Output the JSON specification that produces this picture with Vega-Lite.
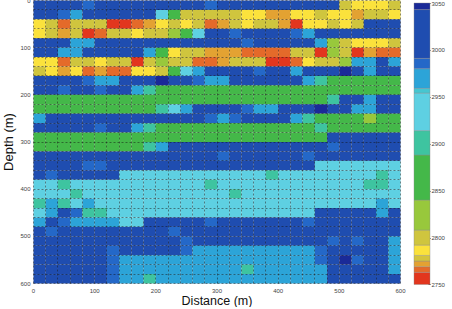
{
"$schema": "https://vega.github.io/schema/vega-lite/v6.json",
"padding": {"left": 2, "top": -3, "right": 2, "bottom": 0},
"bounds": "flush",
"spacing": 14,
"config": {"view": {"stroke": null}, "font": "Liberation Sans"},
"datasets": {
"cells": [
{"x":0,"y":0,"v":3015},{"x":20,"y":0,"v":3015},{"x":40,"y":0,"v":3015},{"x":60,"y":0,"v":3015},{"x":80,"y":0,"v":2985},{"x":100,"y":0,"v":3015},{"x":120,"y":0,"v":3015},{"x":140,"y":0,"v":3015},{"x":160,"y":0,"v":3015},{"x":180,"y":0,"v":3015},{"x":200,"y":0,"v":3015},{"x":220,"y":0,"v":3015},{"x":240,"y":0,"v":3015},{"x":260,"y":0,"v":3015},{"x":280,"y":0,"v":2985},{"x":300,"y":0,"v":3015},{"x":320,"y":0,"v":3015},{"x":340,"y":0,"v":3015},{"x":360,"y":0,"v":3015},{"x":380,"y":0,"v":3015},{"x":400,"y":0,"v":3015},{"x":420,"y":0,"v":3015},{"x":440,"y":0,"v":3015},{"x":460,"y":0,"v":3015},{"x":480,"y":0,"v":3015},{"x":500,"y":0,"v":2800},{"x":520,"y":0,"v":2786},{"x":540,"y":0,"v":2786},{"x":560,"y":0,"v":2786},{"x":580,"y":0,"v":2800},
{"x":0,"y":20,"v":3015},{"x":20,"y":20,"v":3015},{"x":40,"y":20,"v":2985},{"x":60,"y":20,"v":2968},{"x":80,"y":20,"v":3015},{"x":100,"y":20,"v":3015},{"x":120,"y":20,"v":3015},{"x":140,"y":20,"v":3015},{"x":160,"y":20,"v":3015},{"x":180,"y":20,"v":3015},{"x":200,"y":20,"v":2935},{"x":220,"y":20,"v":2865},{"x":240,"y":20,"v":2800},{"x":260,"y":20,"v":2800},{"x":280,"y":20,"v":2800},{"x":300,"y":20,"v":2800},{"x":320,"y":20,"v":2800},{"x":340,"y":20,"v":2786},{"x":360,"y":20,"v":2786},{"x":380,"y":20,"v":2772},{"x":400,"y":20,"v":2772},{"x":420,"y":20,"v":2786},{"x":440,"y":20,"v":2786},{"x":460,"y":20,"v":2800},{"x":480,"y":20,"v":2786},{"x":500,"y":20,"v":2786},{"x":520,"y":20,"v":2772},{"x":540,"y":20,"v":2800},{"x":560,"y":20,"v":2800},{"x":580,"y":20,"v":2786},
{"x":0,"y":40,"v":2786},{"x":20,"y":40,"v":2800},{"x":40,"y":40,"v":2766},{"x":60,"y":40,"v":2800},{"x":80,"y":40,"v":2800},{"x":100,"y":40,"v":2800},{"x":120,"y":40,"v":2756},{"x":140,"y":40,"v":2756},{"x":160,"y":40,"v":2766},{"x":180,"y":40,"v":2772},{"x":200,"y":40,"v":2786},{"x":220,"y":40,"v":2800},{"x":240,"y":40,"v":2786},{"x":260,"y":40,"v":2800},{"x":280,"y":40,"v":2766},{"x":300,"y":40,"v":2772},{"x":320,"y":40,"v":2800},{"x":340,"y":40,"v":2786},{"x":360,"y":40,"v":2800},{"x":380,"y":40,"v":2800},{"x":400,"y":40,"v":2772},{"x":420,"y":40,"v":2756},{"x":440,"y":40,"v":2786},{"x":460,"y":40,"v":2786},{"x":480,"y":40,"v":2800},{"x":500,"y":40,"v":2786},{"x":520,"y":40,"v":2800},{"x":540,"y":40,"v":3015},{"x":560,"y":40,"v":3015},{"x":580,"y":40,"v":3015},
{"x":0,"y":60,"v":2786},{"x":20,"y":60,"v":2800},{"x":40,"y":60,"v":2772},{"x":60,"y":60,"v":2800},{"x":80,"y":60,"v":2756},{"x":100,"y":60,"v":2766},{"x":120,"y":60,"v":2800},{"x":140,"y":60,"v":2800},{"x":160,"y":60,"v":2786},{"x":180,"y":60,"v":2800},{"x":200,"y":60,"v":2800},{"x":220,"y":60,"v":2825},{"x":240,"y":60,"v":2865},{"x":260,"y":60,"v":2935},{"x":280,"y":60,"v":3015},{"x":300,"y":60,"v":3015},{"x":320,"y":60,"v":2985},{"x":340,"y":60,"v":3015},{"x":360,"y":60,"v":3015},{"x":380,"y":60,"v":3015},{"x":400,"y":60,"v":3015},{"x":420,"y":60,"v":2985},{"x":440,"y":60,"v":2968},{"x":460,"y":60,"v":3015},{"x":480,"y":60,"v":3015},{"x":500,"y":60,"v":3015},{"x":520,"y":60,"v":3015},{"x":540,"y":60,"v":3015},{"x":560,"y":60,"v":3015},{"x":580,"y":60,"v":3015},
{"x":0,"y":80,"v":3015},{"x":20,"y":80,"v":3015},{"x":40,"y":80,"v":3015},{"x":60,"y":80,"v":2968},{"x":80,"y":80,"v":2968},{"x":100,"y":80,"v":3015},{"x":120,"y":80,"v":3015},{"x":140,"y":80,"v":3015},{"x":160,"y":80,"v":3015},{"x":180,"y":80,"v":3015},{"x":200,"y":80,"v":3015},{"x":220,"y":80,"v":3015},{"x":240,"y":80,"v":3015},{"x":260,"y":80,"v":3015},{"x":280,"y":80,"v":3015},{"x":300,"y":80,"v":3015},{"x":320,"y":80,"v":3015},{"x":340,"y":80,"v":2985},{"x":360,"y":80,"v":3015},{"x":380,"y":80,"v":3015},{"x":400,"y":80,"v":3015},{"x":420,"y":80,"v":3015},{"x":440,"y":80,"v":3015},{"x":460,"y":80,"v":2968},{"x":480,"y":80,"v":2825},{"x":500,"y":80,"v":2800},{"x":520,"y":80,"v":2786},{"x":540,"y":80,"v":2786},{"x":560,"y":80,"v":2786},{"x":580,"y":80,"v":2800},
{"x":0,"y":100,"v":3015},{"x":20,"y":100,"v":3015},{"x":40,"y":100,"v":2968},{"x":60,"y":100,"v":2968},{"x":80,"y":100,"v":3015},{"x":100,"y":100,"v":3015},{"x":120,"y":100,"v":3015},{"x":140,"y":100,"v":3015},{"x":160,"y":100,"v":3015},{"x":180,"y":100,"v":2968},{"x":200,"y":100,"v":2865},{"x":220,"y":100,"v":2786},{"x":240,"y":100,"v":2800},{"x":260,"y":100,"v":2800},{"x":280,"y":100,"v":2772},{"x":300,"y":100,"v":2772},{"x":320,"y":100,"v":2772},{"x":340,"y":100,"v":2766},{"x":360,"y":100,"v":2766},{"x":380,"y":100,"v":2766},{"x":400,"y":100,"v":2766},{"x":420,"y":100,"v":2800},{"x":440,"y":100,"v":2800},{"x":460,"y":100,"v":2756},{"x":480,"y":100,"v":2825},{"x":500,"y":100,"v":2800},{"x":520,"y":100,"v":2756},{"x":540,"y":100,"v":2772},{"x":560,"y":100,"v":2766},{"x":580,"y":100,"v":2766},
{"x":0,"y":120,"v":2786},{"x":20,"y":120,"v":2786},{"x":40,"y":120,"v":2766},{"x":60,"y":120,"v":2800},{"x":80,"y":120,"v":2800},{"x":100,"y":120,"v":2786},{"x":120,"y":120,"v":2800},{"x":140,"y":120,"v":2800},{"x":160,"y":120,"v":2756},{"x":180,"y":120,"v":2800},{"x":200,"y":120,"v":2825},{"x":220,"y":120,"v":2800},{"x":240,"y":120,"v":2800},{"x":260,"y":120,"v":2766},{"x":280,"y":120,"v":2766},{"x":300,"y":120,"v":2772},{"x":320,"y":120,"v":2800},{"x":340,"y":120,"v":2800},{"x":360,"y":120,"v":2800},{"x":380,"y":120,"v":2756},{"x":400,"y":120,"v":2756},{"x":420,"y":120,"v":2766},{"x":440,"y":120,"v":2786},{"x":460,"y":120,"v":2800},{"x":480,"y":120,"v":2800},{"x":500,"y":120,"v":2825},{"x":520,"y":120,"v":2968},{"x":540,"y":120,"v":2968},{"x":560,"y":120,"v":3015},{"x":580,"y":120,"v":2968},
{"x":0,"y":140,"v":2800},{"x":20,"y":140,"v":2786},{"x":40,"y":140,"v":2772},{"x":60,"y":140,"v":2786},{"x":80,"y":140,"v":2766},{"x":100,"y":140,"v":2772},{"x":120,"y":140,"v":2766},{"x":140,"y":140,"v":2766},{"x":160,"y":140,"v":2786},{"x":180,"y":140,"v":2786},{"x":200,"y":140,"v":2800},{"x":220,"y":140,"v":2865},{"x":240,"y":140,"v":2935},{"x":260,"y":140,"v":2968},{"x":280,"y":140,"v":3015},{"x":300,"y":140,"v":3015},{"x":320,"y":140,"v":3015},{"x":340,"y":140,"v":3015},{"x":360,"y":140,"v":2985},{"x":380,"y":140,"v":3015},{"x":400,"y":140,"v":3015},{"x":420,"y":140,"v":2968},{"x":440,"y":140,"v":3015},{"x":460,"y":140,"v":3015},{"x":480,"y":140,"v":3015},{"x":500,"y":140,"v":3046},{"x":520,"y":140,"v":3015},{"x":540,"y":140,"v":2968},{"x":560,"y":140,"v":3015},{"x":580,"y":140,"v":3015},
{"x":0,"y":160,"v":3015},{"x":20,"y":160,"v":3015},{"x":40,"y":160,"v":3015},{"x":60,"y":160,"v":3015},{"x":80,"y":160,"v":2985},{"x":100,"y":160,"v":2968},{"x":120,"y":160,"v":2968},{"x":140,"y":160,"v":3015},{"x":160,"y":160,"v":3015},{"x":180,"y":160,"v":3015},{"x":200,"y":160,"v":3046},{"x":220,"y":160,"v":3015},{"x":240,"y":160,"v":3015},{"x":260,"y":160,"v":2985},{"x":280,"y":160,"v":2968},{"x":300,"y":160,"v":2968},{"x":320,"y":160,"v":3015},{"x":340,"y":160,"v":3015},{"x":360,"y":160,"v":3015},{"x":380,"y":160,"v":3015},{"x":400,"y":160,"v":3015},{"x":420,"y":160,"v":3015},{"x":440,"y":160,"v":2968},{"x":460,"y":160,"v":2900},{"x":480,"y":160,"v":2865},{"x":500,"y":160,"v":2865},{"x":520,"y":160,"v":2865},{"x":540,"y":160,"v":2865},{"x":560,"y":160,"v":2865},{"x":580,"y":160,"v":2865},
{"x":0,"y":180,"v":3015},{"x":20,"y":180,"v":3015},{"x":40,"y":180,"v":2985},{"x":60,"y":180,"v":3015},{"x":80,"y":180,"v":3015},{"x":100,"y":180,"v":2985},{"x":120,"y":180,"v":3015},{"x":140,"y":180,"v":3015},{"x":160,"y":180,"v":2968},{"x":180,"y":180,"v":2900},{"x":200,"y":180,"v":2865},{"x":220,"y":180,"v":2865},{"x":240,"y":180,"v":2865},{"x":260,"y":180,"v":2865},{"x":280,"y":180,"v":2865},{"x":300,"y":180,"v":2865},{"x":320,"y":180,"v":2865},{"x":340,"y":180,"v":2865},{"x":360,"y":180,"v":2865},{"x":380,"y":180,"v":2865},{"x":400,"y":180,"v":2865},{"x":420,"y":180,"v":2865},{"x":440,"y":180,"v":2865},{"x":460,"y":180,"v":2865},{"x":480,"y":180,"v":2865},{"x":500,"y":180,"v":2865},{"x":520,"y":180,"v":2865},{"x":540,"y":180,"v":2865},{"x":560,"y":180,"v":2865},{"x":580,"y":180,"v":2865},
{"x":0,"y":200,"v":2865},{"x":20,"y":200,"v":2865},{"x":40,"y":200,"v":2865},{"x":60,"y":200,"v":2865},{"x":80,"y":200,"v":2865},{"x":100,"y":200,"v":2865},{"x":120,"y":200,"v":2865},{"x":140,"y":200,"v":2865},{"x":160,"y":200,"v":2865},{"x":180,"y":200,"v":2865},{"x":200,"y":200,"v":2865},{"x":220,"y":200,"v":2865},{"x":240,"y":200,"v":2865},{"x":260,"y":200,"v":2865},{"x":280,"y":200,"v":2865},{"x":300,"y":200,"v":2865},{"x":320,"y":200,"v":2865},{"x":340,"y":200,"v":2865},{"x":360,"y":200,"v":2865},{"x":380,"y":200,"v":2865},{"x":400,"y":200,"v":2865},{"x":420,"y":200,"v":2865},{"x":440,"y":200,"v":2865},{"x":460,"y":200,"v":2865},{"x":480,"y":200,"v":2900},{"x":500,"y":200,"v":3015},{"x":520,"y":200,"v":3015},{"x":540,"y":200,"v":2968},{"x":560,"y":200,"v":3015},{"x":580,"y":200,"v":3015},
{"x":0,"y":220,"v":2865},{"x":20,"y":220,"v":2865},{"x":40,"y":220,"v":2865},{"x":60,"y":220,"v":2865},{"x":80,"y":220,"v":2865},{"x":100,"y":220,"v":2865},{"x":120,"y":220,"v":2865},{"x":140,"y":220,"v":2865},{"x":160,"y":220,"v":2865},{"x":180,"y":220,"v":2865},{"x":200,"y":220,"v":2900},{"x":220,"y":220,"v":2935},{"x":240,"y":220,"v":2968},{"x":260,"y":220,"v":3015},{"x":280,"y":220,"v":3015},{"x":300,"y":220,"v":3015},{"x":320,"y":220,"v":3015},{"x":340,"y":220,"v":2985},{"x":360,"y":220,"v":2968},{"x":380,"y":220,"v":2968},{"x":400,"y":220,"v":3015},{"x":420,"y":220,"v":3015},{"x":440,"y":220,"v":3015},{"x":460,"y":220,"v":3046},{"x":480,"y":220,"v":3015},{"x":500,"y":220,"v":3015},{"x":520,"y":220,"v":2968},{"x":540,"y":220,"v":2968},{"x":560,"y":220,"v":3015},{"x":580,"y":220,"v":3015},
{"x":0,"y":240,"v":2968},{"x":20,"y":240,"v":3015},{"x":40,"y":240,"v":3015},{"x":60,"y":240,"v":3015},{"x":80,"y":240,"v":3015},{"x":100,"y":240,"v":3015},{"x":120,"y":240,"v":3015},{"x":140,"y":240,"v":3015},{"x":160,"y":240,"v":3015},{"x":180,"y":240,"v":3015},{"x":200,"y":240,"v":3015},{"x":220,"y":240,"v":3015},{"x":240,"y":240,"v":3015},{"x":260,"y":240,"v":3015},{"x":280,"y":240,"v":2985},{"x":300,"y":240,"v":2968},{"x":320,"y":240,"v":2985},{"x":340,"y":240,"v":3015},{"x":360,"y":240,"v":3015},{"x":380,"y":240,"v":3015},{"x":400,"y":240,"v":3015},{"x":420,"y":240,"v":2968},{"x":440,"y":240,"v":2900},{"x":460,"y":240,"v":2865},{"x":480,"y":240,"v":2865},{"x":500,"y":240,"v":2865},{"x":520,"y":240,"v":2865},{"x":540,"y":240,"v":2825},{"x":560,"y":240,"v":2865},{"x":580,"y":240,"v":2865},
{"x":0,"y":260,"v":3015},{"x":20,"y":260,"v":3015},{"x":40,"y":260,"v":3015},{"x":60,"y":260,"v":3015},{"x":80,"y":260,"v":3015},{"x":100,"y":260,"v":2985},{"x":120,"y":260,"v":3015},{"x":140,"y":260,"v":3015},{"x":160,"y":260,"v":2968},{"x":180,"y":260,"v":2900},{"x":200,"y":260,"v":2865},{"x":220,"y":260,"v":2865},{"x":240,"y":260,"v":2865},{"x":260,"y":260,"v":2865},{"x":280,"y":260,"v":2865},{"x":300,"y":260,"v":2865},{"x":320,"y":260,"v":2865},{"x":340,"y":260,"v":2865},{"x":360,"y":260,"v":2865},{"x":380,"y":260,"v":2865},{"x":400,"y":260,"v":2865},{"x":420,"y":260,"v":2865},{"x":440,"y":260,"v":2865},{"x":460,"y":260,"v":2900},{"x":480,"y":260,"v":2865},{"x":500,"y":260,"v":2865},{"x":520,"y":260,"v":2865},{"x":540,"y":260,"v":2865},{"x":560,"y":260,"v":2865},{"x":580,"y":260,"v":2865},
{"x":0,"y":280,"v":2865},{"x":20,"y":280,"v":2865},{"x":40,"y":280,"v":2865},{"x":60,"y":280,"v":2865},{"x":80,"y":280,"v":2865},{"x":100,"y":280,"v":2865},{"x":120,"y":280,"v":2865},{"x":140,"y":280,"v":2865},{"x":160,"y":280,"v":2865},{"x":180,"y":280,"v":2865},{"x":200,"y":280,"v":2865},{"x":220,"y":280,"v":2865},{"x":240,"y":280,"v":2865},{"x":260,"y":280,"v":2865},{"x":280,"y":280,"v":2865},{"x":300,"y":280,"v":2865},{"x":320,"y":280,"v":2865},{"x":340,"y":280,"v":2865},{"x":360,"y":280,"v":2865},{"x":380,"y":280,"v":2865},{"x":400,"y":280,"v":2865},{"x":420,"y":280,"v":2865},{"x":440,"y":280,"v":2865},{"x":460,"y":280,"v":2865},{"x":480,"y":280,"v":3015},{"x":500,"y":280,"v":3015},{"x":520,"y":280,"v":3015},{"x":540,"y":280,"v":3015},{"x":560,"y":280,"v":3015},{"x":580,"y":280,"v":3015},
{"x":0,"y":300,"v":2865},{"x":20,"y":300,"v":2865},{"x":40,"y":300,"v":2865},{"x":60,"y":300,"v":2865},{"x":80,"y":300,"v":2865},{"x":100,"y":300,"v":2865},{"x":120,"y":300,"v":2865},{"x":140,"y":300,"v":2865},{"x":160,"y":300,"v":2865},{"x":180,"y":300,"v":2900},{"x":200,"y":300,"v":2968},{"x":220,"y":300,"v":3015},{"x":240,"y":300,"v":3015},{"x":260,"y":300,"v":3015},{"x":280,"y":300,"v":3015},{"x":300,"y":300,"v":3015},{"x":320,"y":300,"v":3015},{"x":340,"y":300,"v":3015},{"x":360,"y":300,"v":3015},{"x":380,"y":300,"v":3015},{"x":400,"y":300,"v":3015},{"x":420,"y":300,"v":3015},{"x":440,"y":300,"v":3015},{"x":460,"y":300,"v":3015},{"x":480,"y":300,"v":2985},{"x":500,"y":300,"v":3015},{"x":520,"y":300,"v":3015},{"x":540,"y":300,"v":3015},{"x":560,"y":300,"v":3015},{"x":580,"y":300,"v":3015},
{"x":0,"y":320,"v":3015},{"x":20,"y":320,"v":3015},{"x":40,"y":320,"v":3015},{"x":60,"y":320,"v":3015},{"x":80,"y":320,"v":3015},{"x":100,"y":320,"v":3015},{"x":120,"y":320,"v":3015},{"x":140,"y":320,"v":3015},{"x":160,"y":320,"v":3015},{"x":180,"y":320,"v":3015},{"x":200,"y":320,"v":3015},{"x":220,"y":320,"v":3015},{"x":240,"y":320,"v":3015},{"x":260,"y":320,"v":3015},{"x":280,"y":320,"v":3015},{"x":300,"y":320,"v":2985},{"x":320,"y":320,"v":3015},{"x":340,"y":320,"v":3015},{"x":360,"y":320,"v":3015},{"x":380,"y":320,"v":3015},{"x":400,"y":320,"v":3015},{"x":420,"y":320,"v":3015},{"x":440,"y":320,"v":2985},{"x":460,"y":320,"v":3015},{"x":480,"y":320,"v":3015},{"x":500,"y":320,"v":3015},{"x":520,"y":320,"v":3015},{"x":540,"y":320,"v":3015},{"x":560,"y":320,"v":3015},{"x":580,"y":320,"v":3015},
{"x":0,"y":340,"v":3015},{"x":20,"y":340,"v":3015},{"x":40,"y":340,"v":3015},{"x":60,"y":340,"v":3015},{"x":80,"y":340,"v":2985},{"x":100,"y":340,"v":2985},{"x":120,"y":340,"v":3015},{"x":140,"y":340,"v":3015},{"x":160,"y":340,"v":3015},{"x":180,"y":340,"v":3015},{"x":200,"y":340,"v":3015},{"x":220,"y":340,"v":3015},{"x":240,"y":340,"v":3015},{"x":260,"y":340,"v":3015},{"x":280,"y":340,"v":3015},{"x":300,"y":340,"v":3015},{"x":320,"y":340,"v":3015},{"x":340,"y":340,"v":3015},{"x":360,"y":340,"v":3015},{"x":380,"y":340,"v":3015},{"x":400,"y":340,"v":3015},{"x":420,"y":340,"v":3015},{"x":440,"y":340,"v":3015},{"x":460,"y":340,"v":2935},{"x":480,"y":340,"v":2935},{"x":500,"y":340,"v":2935},{"x":520,"y":340,"v":2935},{"x":540,"y":340,"v":2935},{"x":560,"y":340,"v":2935},{"x":580,"y":340,"v":2935},
{"x":0,"y":360,"v":3015},{"x":20,"y":360,"v":2985},{"x":40,"y":360,"v":3015},{"x":60,"y":360,"v":3015},{"x":80,"y":360,"v":3015},{"x":100,"y":360,"v":3015},{"x":120,"y":360,"v":3015},{"x":140,"y":360,"v":2935},{"x":160,"y":360,"v":2935},{"x":180,"y":360,"v":2935},{"x":200,"y":360,"v":2935},{"x":220,"y":360,"v":2935},{"x":240,"y":360,"v":2935},{"x":260,"y":360,"v":2935},{"x":280,"y":360,"v":2935},{"x":300,"y":360,"v":2935},{"x":320,"y":360,"v":2935},{"x":340,"y":360,"v":2935},{"x":360,"y":360,"v":2935},{"x":380,"y":360,"v":2900},{"x":400,"y":360,"v":2935},{"x":420,"y":360,"v":2935},{"x":440,"y":360,"v":2935},{"x":460,"y":360,"v":2935},{"x":480,"y":360,"v":2935},{"x":500,"y":360,"v":2935},{"x":520,"y":360,"v":2935},{"x":540,"y":360,"v":2935},{"x":560,"y":360,"v":2900},{"x":580,"y":360,"v":2935},
{"x":0,"y":380,"v":2935},{"x":20,"y":380,"v":2935},{"x":40,"y":380,"v":2900},{"x":60,"y":380,"v":2935},{"x":80,"y":380,"v":2935},{"x":100,"y":380,"v":2935},{"x":120,"y":380,"v":2935},{"x":140,"y":380,"v":2935},{"x":160,"y":380,"v":2935},{"x":180,"y":380,"v":2935},{"x":200,"y":380,"v":2935},{"x":220,"y":380,"v":2935},{"x":240,"y":380,"v":2935},{"x":260,"y":380,"v":2935},{"x":280,"y":380,"v":2900},{"x":300,"y":380,"v":2935},{"x":320,"y":380,"v":2935},{"x":340,"y":380,"v":2935},{"x":360,"y":380,"v":2935},{"x":380,"y":380,"v":2935},{"x":400,"y":380,"v":2935},{"x":420,"y":380,"v":2935},{"x":440,"y":380,"v":2935},{"x":460,"y":380,"v":2935},{"x":480,"y":380,"v":2935},{"x":500,"y":380,"v":2935},{"x":520,"y":380,"v":2935},{"x":540,"y":380,"v":2900},{"x":560,"y":380,"v":2900},{"x":580,"y":380,"v":2935},
{"x":0,"y":400,"v":2935},{"x":20,"y":400,"v":2935},{"x":40,"y":400,"v":2935},{"x":60,"y":400,"v":2900},{"x":80,"y":400,"v":2935},{"x":100,"y":400,"v":2935},{"x":120,"y":400,"v":2935},{"x":140,"y":400,"v":2935},{"x":160,"y":400,"v":2935},{"x":180,"y":400,"v":2935},{"x":200,"y":400,"v":2935},{"x":220,"y":400,"v":2935},{"x":240,"y":400,"v":2935},{"x":260,"y":400,"v":2935},{"x":280,"y":400,"v":2935},{"x":300,"y":400,"v":2935},{"x":320,"y":400,"v":2900},{"x":340,"y":400,"v":2935},{"x":360,"y":400,"v":2935},{"x":380,"y":400,"v":2935},{"x":400,"y":400,"v":2935},{"x":420,"y":400,"v":2935},{"x":440,"y":400,"v":2935},{"x":460,"y":400,"v":2935},{"x":480,"y":400,"v":2935},{"x":500,"y":400,"v":2935},{"x":520,"y":400,"v":2935},{"x":540,"y":400,"v":2935},{"x":560,"y":400,"v":2935},{"x":580,"y":400,"v":2935},
{"x":0,"y":420,"v":2900},{"x":20,"y":420,"v":2968},{"x":40,"y":420,"v":2900},{"x":60,"y":420,"v":2935},{"x":80,"y":420,"v":2968},{"x":100,"y":420,"v":2935},{"x":120,"y":420,"v":2935},{"x":140,"y":420,"v":2935},{"x":160,"y":420,"v":2935},{"x":180,"y":420,"v":2935},{"x":200,"y":420,"v":2935},{"x":220,"y":420,"v":2935},{"x":240,"y":420,"v":2935},{"x":260,"y":420,"v":2935},{"x":280,"y":420,"v":2935},{"x":300,"y":420,"v":2935},{"x":320,"y":420,"v":2935},{"x":340,"y":420,"v":2935},{"x":360,"y":420,"v":2935},{"x":380,"y":420,"v":2935},{"x":400,"y":420,"v":2935},{"x":420,"y":420,"v":2935},{"x":440,"y":420,"v":2935},{"x":460,"y":420,"v":2935},{"x":480,"y":420,"v":2935},{"x":500,"y":420,"v":2935},{"x":520,"y":420,"v":2935},{"x":540,"y":420,"v":2935},{"x":560,"y":420,"v":2968},{"x":580,"y":420,"v":2935},
{"x":0,"y":440,"v":2935},{"x":20,"y":440,"v":2968},{"x":40,"y":440,"v":3015},{"x":60,"y":440,"v":2985},{"x":80,"y":440,"v":2900},{"x":100,"y":440,"v":2900},{"x":120,"y":440,"v":2935},{"x":140,"y":440,"v":2935},{"x":160,"y":440,"v":2935},{"x":180,"y":440,"v":2935},{"x":200,"y":440,"v":2935},{"x":220,"y":440,"v":2935},{"x":240,"y":440,"v":2935},{"x":260,"y":440,"v":2935},{"x":280,"y":440,"v":2935},{"x":300,"y":440,"v":2935},{"x":320,"y":440,"v":2935},{"x":340,"y":440,"v":2935},{"x":360,"y":440,"v":2935},{"x":380,"y":440,"v":2935},{"x":400,"y":440,"v":2935},{"x":420,"y":440,"v":2935},{"x":440,"y":440,"v":2935},{"x":460,"y":440,"v":3015},{"x":480,"y":440,"v":3015},{"x":500,"y":440,"v":3015},{"x":520,"y":440,"v":3015},{"x":540,"y":440,"v":3015},{"x":560,"y":440,"v":2968},{"x":580,"y":440,"v":3015},
{"x":0,"y":460,"v":2968},{"x":20,"y":460,"v":3015},{"x":40,"y":460,"v":2985},{"x":60,"y":460,"v":2968},{"x":80,"y":460,"v":2968},{"x":100,"y":460,"v":2968},{"x":120,"y":460,"v":2968},{"x":140,"y":460,"v":2935},{"x":160,"y":460,"v":2935},{"x":180,"y":460,"v":3015},{"x":200,"y":460,"v":3015},{"x":220,"y":460,"v":3015},{"x":240,"y":460,"v":3015},{"x":260,"y":460,"v":3015},{"x":280,"y":460,"v":2985},{"x":300,"y":460,"v":3015},{"x":320,"y":460,"v":3015},{"x":340,"y":460,"v":3015},{"x":360,"y":460,"v":3015},{"x":380,"y":460,"v":3015},{"x":400,"y":460,"v":3015},{"x":420,"y":460,"v":3015},{"x":440,"y":460,"v":2985},{"x":460,"y":460,"v":3015},{"x":480,"y":460,"v":3015},{"x":500,"y":460,"v":3015},{"x":520,"y":460,"v":3015},{"x":540,"y":460,"v":3015},{"x":560,"y":460,"v":3015},{"x":580,"y":460,"v":3015},
{"x":0,"y":480,"v":3015},{"x":20,"y":480,"v":2985},{"x":40,"y":480,"v":3015},{"x":60,"y":480,"v":3015},{"x":80,"y":480,"v":3015},{"x":100,"y":480,"v":3015},{"x":120,"y":480,"v":3015},{"x":140,"y":480,"v":3015},{"x":160,"y":480,"v":3015},{"x":180,"y":480,"v":3015},{"x":200,"y":480,"v":3015},{"x":220,"y":480,"v":2985},{"x":240,"y":480,"v":3015},{"x":260,"y":480,"v":3015},{"x":280,"y":480,"v":3015},{"x":300,"y":480,"v":3015},{"x":320,"y":480,"v":3015},{"x":340,"y":480,"v":3015},{"x":360,"y":480,"v":3015},{"x":380,"y":480,"v":3015},{"x":400,"y":480,"v":3015},{"x":420,"y":480,"v":3015},{"x":440,"y":480,"v":3015},{"x":460,"y":480,"v":3015},{"x":480,"y":480,"v":3015},{"x":500,"y":480,"v":3015},{"x":520,"y":480,"v":3015},{"x":540,"y":480,"v":3015},{"x":560,"y":480,"v":3015},{"x":580,"y":480,"v":3015},
{"x":0,"y":500,"v":3015},{"x":20,"y":500,"v":3015},{"x":40,"y":500,"v":3015},{"x":60,"y":500,"v":3015},{"x":80,"y":500,"v":3015},{"x":100,"y":500,"v":3015},{"x":120,"y":500,"v":3015},{"x":140,"y":500,"v":3015},{"x":160,"y":500,"v":3015},{"x":180,"y":500,"v":3015},{"x":200,"y":500,"v":3015},{"x":220,"y":500,"v":3015},{"x":240,"y":500,"v":2985},{"x":260,"y":500,"v":3015},{"x":280,"y":500,"v":3015},{"x":300,"y":500,"v":3015},{"x":320,"y":500,"v":3015},{"x":340,"y":500,"v":3015},{"x":360,"y":500,"v":3015},{"x":380,"y":500,"v":3015},{"x":400,"y":500,"v":3015},{"x":420,"y":500,"v":3015},{"x":440,"y":500,"v":3015},{"x":460,"y":500,"v":3015},{"x":480,"y":500,"v":2985},{"x":500,"y":500,"v":3015},{"x":520,"y":500,"v":2985},{"x":540,"y":500,"v":3015},{"x":560,"y":500,"v":3015},{"x":580,"y":500,"v":2968},
{"x":0,"y":520,"v":3015},{"x":20,"y":520,"v":3015},{"x":40,"y":520,"v":3015},{"x":60,"y":520,"v":3015},{"x":80,"y":520,"v":3015},{"x":100,"y":520,"v":3015},{"x":120,"y":520,"v":2985},{"x":140,"y":520,"v":3015},{"x":160,"y":520,"v":3015},{"x":180,"y":520,"v":3015},{"x":200,"y":520,"v":3015},{"x":220,"y":520,"v":3015},{"x":240,"y":520,"v":2985},{"x":260,"y":520,"v":2968},{"x":280,"y":520,"v":2968},{"x":300,"y":520,"v":2968},{"x":320,"y":520,"v":2968},{"x":340,"y":520,"v":2968},{"x":360,"y":520,"v":2968},{"x":380,"y":520,"v":2968},{"x":400,"y":520,"v":2968},{"x":420,"y":520,"v":2968},{"x":440,"y":520,"v":2968},{"x":460,"y":520,"v":2985},{"x":480,"y":520,"v":3015},{"x":500,"y":520,"v":3015},{"x":520,"y":520,"v":3015},{"x":540,"y":520,"v":3015},{"x":560,"y":520,"v":3015},{"x":580,"y":520,"v":2968},
{"x":0,"y":540,"v":3015},{"x":20,"y":540,"v":3015},{"x":40,"y":540,"v":3015},{"x":60,"y":540,"v":3015},{"x":80,"y":540,"v":3015},{"x":100,"y":540,"v":3015},{"x":120,"y":540,"v":2985},{"x":140,"y":540,"v":2968},{"x":160,"y":540,"v":2968},{"x":180,"y":540,"v":2968},{"x":200,"y":540,"v":2968},{"x":220,"y":540,"v":2968},{"x":240,"y":540,"v":2968},{"x":260,"y":540,"v":2968},{"x":280,"y":540,"v":2968},{"x":300,"y":540,"v":2968},{"x":320,"y":540,"v":2968},{"x":340,"y":540,"v":2968},{"x":360,"y":540,"v":2968},{"x":380,"y":540,"v":2968},{"x":400,"y":540,"v":2968},{"x":420,"y":540,"v":2968},{"x":440,"y":540,"v":2968},{"x":460,"y":540,"v":2985},{"x":480,"y":540,"v":3015},{"x":500,"y":540,"v":3046},{"x":520,"y":540,"v":2985},{"x":540,"y":540,"v":3015},{"x":560,"y":540,"v":3015},{"x":580,"y":540,"v":2968},
{"x":0,"y":560,"v":3015},{"x":20,"y":560,"v":3015},{"x":40,"y":560,"v":3015},{"x":60,"y":560,"v":3015},{"x":80,"y":560,"v":3015},{"x":100,"y":560,"v":3015},{"x":120,"y":560,"v":2985},{"x":140,"y":560,"v":2968},{"x":160,"y":560,"v":2968},{"x":180,"y":560,"v":2968},{"x":200,"y":560,"v":2968},{"x":220,"y":560,"v":2968},{"x":240,"y":560,"v":2968},{"x":260,"y":560,"v":2968},{"x":280,"y":560,"v":2968},{"x":300,"y":560,"v":2968},{"x":320,"y":560,"v":2968},{"x":340,"y":560,"v":2900},{"x":360,"y":560,"v":2968},{"x":380,"y":560,"v":2968},{"x":400,"y":560,"v":2968},{"x":420,"y":560,"v":2968},{"x":440,"y":560,"v":2968},{"x":460,"y":560,"v":2968},{"x":480,"y":560,"v":3015},{"x":500,"y":560,"v":3015},{"x":520,"y":560,"v":3015},{"x":540,"y":560,"v":3015},{"x":560,"y":560,"v":3015},{"x":580,"y":560,"v":2968},
{"x":0,"y":580,"v":3015},{"x":20,"y":580,"v":3015},{"x":40,"y":580,"v":3015},{"x":60,"y":580,"v":3015},{"x":80,"y":580,"v":3015},{"x":100,"y":580,"v":3015},{"x":120,"y":580,"v":2985},{"x":140,"y":580,"v":2968},{"x":160,"y":580,"v":2968},{"x":180,"y":580,"v":2900},{"x":200,"y":580,"v":2968},{"x":220,"y":580,"v":2968},{"x":240,"y":580,"v":2968},{"x":260,"y":580,"v":2968},{"x":280,"y":580,"v":2968},{"x":300,"y":580,"v":2968},{"x":320,"y":580,"v":2968},{"x":340,"y":580,"v":2968},{"x":360,"y":580,"v":2968},{"x":380,"y":580,"v":2968},{"x":400,"y":580,"v":2968},{"x":420,"y":580,"v":2968},{"x":440,"y":580,"v":2968},{"x":460,"y":580,"v":2968},{"x":480,"y":580,"v":3015},{"x":500,"y":580,"v":3015},{"x":520,"y":580,"v":3015},{"x":540,"y":580,"v":3015},{"x":560,"y":580,"v":3015},{"x":580,"y":580,"v":3015}
],
"bands": [
{"lo":2750,"hi":2763},{"lo":2763,"hi":2769},{"lo":2769,"hi":2775},{"lo":2775,"hi":2781},{"lo":2781,"hi":2792},{"lo":2792,"hi":2808},{"lo":2808,"hi":2840},{"lo":2840,"hi":2888},{"lo":2888,"hi":2914},{"lo":2914,"hi":2954},{"lo":2954,"hi":2959},{"lo":2959,"hi":2980},{"lo":2980,"hi":2991},{"lo":2991,"hi":3043},{"lo":3043,"hi":3050}
]
},
"hconcat": [
{
"width": 367,
"height": 283,
"data": {"name": "cells"},
"mark": {"type": "rect"},
"encoding": {
"x": {
"field": "x", "type": "quantitative", "bin": {"binned": true, "step": 20},
"scale": {"domain": [0, 600], "nice": false, "zero": false},
"axis": {
"values": [0,20,40,60,80,100,120,140,160,180,200,220,240,260,280,300,320,340,360,380,400,420,440,460,480,500,520,540,560,580,600],
"labelExpr": "datum.value % 100 === 0 ? datum.label : ''", "labelOverlap": false, "labelFlush": false,
"grid": true, "gridColor": "#111", "gridDash": [2, 2], "gridOpacity": 0.6, "gridWidth": 0.8,
"ticks": false, "domain": false, "labelFontSize": 6, "labelColor": "#444", "labelPadding": 4,
"title": "Distance (m)", "titleFontSize": 12.5, "titleFontWeight": "normal", "titleColor": "#111", "titlePadding": 1, "zindex": 1
}
},
"y": {
"field": "y", "type": "quantitative", "bin": {"binned": true, "step": 20},
"scale": {"domain": [0, 600], "reverse": true, "nice": false, "zero": false},
"axis": {
"values": [0,20,40,60,80,100,120,140,160,180,200,220,240,260,280,300,320,340,360,380,400,420,440,460,480,500,520,540,560,580,600],
"labelExpr": "datum.value % 100 === 0 ? datum.label : ''", "labelOverlap": false, "labelFlush": false,
"grid": true, "gridColor": "#111", "gridDash": [2, 2], "gridOpacity": 0.6, "gridWidth": 0.8,
"ticks": false, "domain": false, "labelFontSize": 6, "labelColor": "#444", "labelPadding": 3,
"title": "Depth (m)", "titleFontSize": 13, "titleFontWeight": "normal", "titleColor": "#111", "titlePadding": 4, "zindex": 1
}
},
"color": {
"field": "v", "type": "quantitative", "legend": null,
"scale": {
"type": "threshold",
"domain": [2763, 2769, 2775, 2781, 2792, 2808, 2840, 2888, 2914, 2954, 2959, 2980, 2991, 3043],
"range": ["#e2361e", "#e46a2a", "#e3a232", "#d4c43c", "#fbe23c", "#cfc53e", "#98c83c", "#44b849", "#3ec4a0", "#5ed0e2", "#46c6d0", "#2ca4d8", "#2468c8", "#1f4db0", "#1a2a98"]
}
}
}
},
{
"width": 16,
"height": 286,
"data": {"name": "bands"},
"mark": {"type": "rect", "stroke": "#8a8a8a", "strokeWidth": 0.4},
"encoding": {
"y": {
"field": "lo", "type": "quantitative",
"scale": {"domain": [2748.4, 3053.2], "nice": false, "zero": false},
"axis": {
"orient": "right", "values": [2750, 2800, 2850, 2900, 2950, 3000, 3050], "format": "d", "title": null,
"grid": false, "domain": false, "labelFontSize": 6, "labelColor": "#444",
"tickSize": -2, "tickColor": "#333", "labelPadding": 3
}
},
"y2": {"field": "hi"},
"color": {
"field": "lo", "type": "quantitative", "legend": null,
"scale": {
"type": "threshold",
"domain": [2763, 2769, 2775, 2781, 2792, 2808, 2840, 2888, 2914, 2954, 2959, 2980, 2991, 3043],
"range": ["#e2361e", "#e46a2a", "#e3a232", "#d4c43c", "#fbe23c", "#cfc53e", "#98c83c", "#44b849", "#3ec4a0", "#5ed0e2", "#46c6d0", "#2ca4d8", "#2468c8", "#1f4db0", "#1a2a98"]
}
}
}
}
],
"resolve": {"scale": {"y": "independent", "x": "independent", "color": "independent"}}
}
